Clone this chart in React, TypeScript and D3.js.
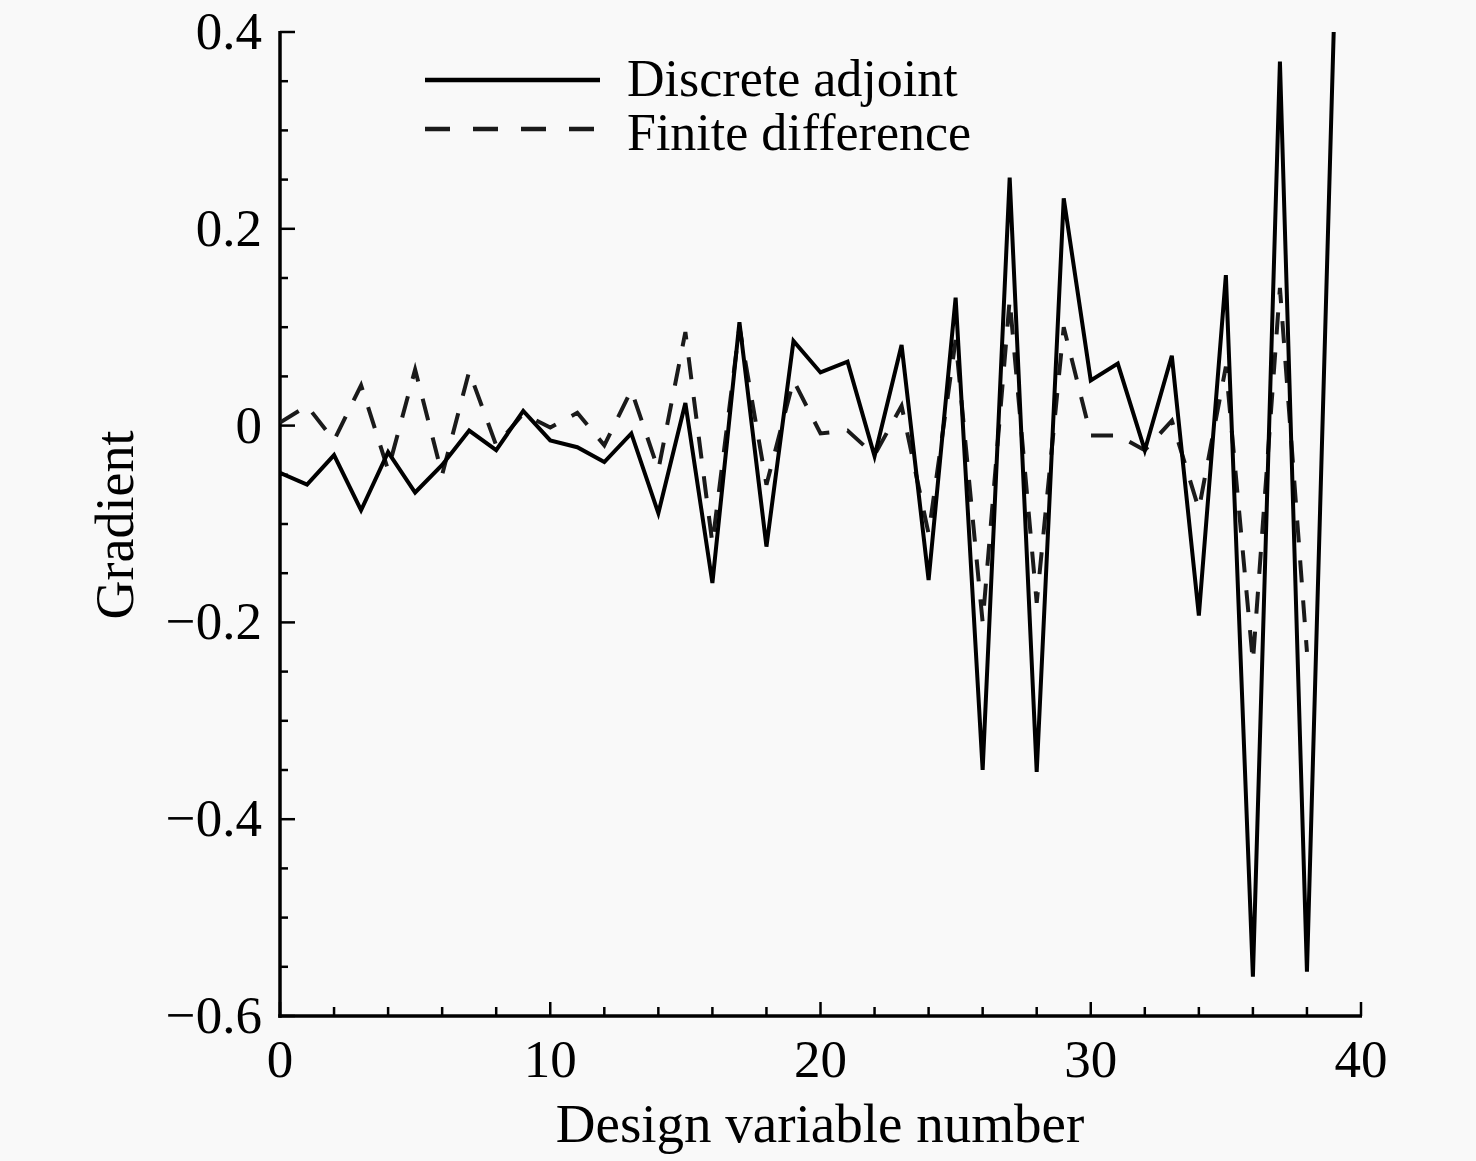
import * as d3 from "d3";
import React, { useEffect, useRef } from "react";

// design variable index 0..39
const adjoint = [
  -0.048, -0.06, -0.03, -0.086, -0.027, -0.068, -0.04, -0.005, -0.025, 0.015,
  -0.015, -0.022, -0.037, -0.008, -0.089, 0.023, -0.16, 0.105, -0.123, 0.086,
  0.054, 0.065, -0.031, 0.082, -0.157, 0.13, -0.35, 0.252, -0.352, 0.231,
  0.046, 0.063, -0.025, 0.071, -0.193, 0.153, -0.56, 0.37, -0.555, 0.41,
];
const finiteDiff = [
  0.003, 0.02, -0.015, 0.041, -0.045, 0.057, -0.05, 0.055, -0.02, 0.012,
  -0.002, 0.013, -0.02, 0.036, -0.045, 0.095, -0.12, 0.1, -0.06, 0.046,
  -0.008, -0.005, -0.03, 0.02, -0.11, 0.087, -0.2, 0.128, -0.18, 0.1,
  -0.01, -0.01, -0.025, 0.005, -0.085, 0.06, -0.24, 0.14, -0.23,
];
const xTicks = [0, 10, 20, 30, 40];
const yTicks = [0.4, 0.2, 0, -0.2, -0.4, -0.6];
const legendNames = ["Discrete adjoint", "Finite difference"];

const W = 1476;
const H = 1161;
const FONT = "'Liberation Serif', 'Times New Roman', serif";

export default function App() {
  const ref = useRef<SVGSVGElement>(null);

  useEffect(() => {
    const svg = d3.select(ref.current);
    svg.selectAll("*").remove();

    const left = 280, right = 1361, top = 32, bottom = 1016;
    const x = d3.scaleLinear().domain([0, 40]).range([left, right]);
    const y = d3.scaleLinear().domain([-0.6, 0.4]).range([bottom, top]);

    svg.append("rect").attr("width", W).attr("height", H).attr("fill", "#f9f9f9");

    svg
      .append("clipPath")
      .attr("id", "plot-clip")
      .append("rect")
      .attr("x", left)
      .attr("y", top)
      .attr("width", right - left)
      .attr("height", bottom - top);

    // ticks (minor every 0.05 / 2, major every 0.2 / 10)
    const g = svg.append("g").attr("stroke", "#000");
    d3.range(-0.6, 0.4001, 0.05).forEach((v) => {
      const major = Math.abs(Math.round(v * 100) % 20) === 0;
      g.append("line")
        .attr("x1", left)
        .attr("x2", left + (major ? 15 : 8))
        .attr("y1", y(v))
        .attr("y2", y(v))
        .attr("stroke-width", 2.5);
    });
    d3.range(0, 40.001, 2).forEach((v) => {
      const major = v % 10 === 0;
      g.append("line")
        .attr("x1", x(v))
        .attr("x2", x(v))
        .attr("y1", bottom)
        .attr("y2", bottom - (major ? 14 : 9))
        .attr("stroke-width", 2.5);
    });

    // axis lines
    g.append("line")
      .attr("x1", left).attr("x2", left)
      .attr("y1", top - 1).attr("y2", bottom + 1.75)
      .attr("stroke-width", 3.5);
    g.append("line")
      .attr("x1", left - 1.75).attr("x2", right + 1)
      .attr("y1", bottom).attr("y2", bottom)
      .attr("stroke-width", 3.5);

    // tick labels
    const fmt = (v: number) => (v === 0 ? "0" : v < 0 ? "\u2212" + d3.format(".1f")(-v) : d3.format(".1f")(v));
    svg
      .append("g")
      .selectAll("text")
      .data(yTicks)
      .enter()
      .append("text")
      .attr("x", 262)
      .attr("y", (d) => y(d) + 17)
      .attr("text-anchor", "end")
      .style("font-family", FONT)
      .style("font-size", "53px")
      .text(fmt);
    svg
      .append("g")
      .selectAll("text")
      .data(xTicks)
      .enter()
      .append("text")
      .attr("x", (d) => x(d))
      .attr("y", 1077)
      .attr("text-anchor", "middle")
      .style("font-family", FONT)
      .style("font-size", "53px")
      .text((d) => String(d));

    // axis titles
    svg
      .append("text")
      .attr("x", 820)
      .attr("y", 1142)
      .attr("text-anchor", "middle")
      .style("font-family", FONT)
      .style("font-size", "55px")
      .text("Design variable number");
    svg
      .append("text")
      .attr("transform", "translate(133, 525) rotate(-90)")
      .attr("text-anchor", "middle")
      .style("font-family", FONT)
      .style("font-size", "54px")
      .text("Gradient");

    // data lines
    const line = d3
      .line<number>()
      .x((_, i) => x(i))
      .y((d) => y(d));
    const plot = svg.append("g").attr("clip-path", "url(#plot-clip)");
    plot
      .append("path")
      .attr("d", line(finiteDiff))
      .attr("fill", "none")
      .attr("stroke", "#1a1a1a")
      .attr("stroke-width", 4)
      .attr("stroke-dasharray", "22 18");
    plot
      .append("path")
      .attr("d", line(adjoint))
      .attr("fill", "none")
      .attr("stroke", "#000")
      .attr("stroke-width", 4)
      .attr("stroke-linejoin", "miter");

    // legend
    const leg = svg.append("g");
    [80, 129].forEach((ly, i) => {
      leg
        .append("line")
        .attr("x1", 425)
        .attr("x2", 600)
        .attr("y1", ly)
        .attr("y2", ly)
        .attr("stroke", i === 0 ? "#000" : "#1a1a1a")
        .attr("stroke-width", 4.5)
        .attr("stroke-dasharray", i === 0 ? null : "25 23");
    });
    leg
      .selectAll("text")
      .data(legendNames)
      .enter()
      .append("text")
      .attr("x", 627)
      .attr("y", (_, i) => 96 + i * 54)
      .style("font-family", FONT)
      .style("font-size", "52px")
      .text((d) => d);
  }, []);

  return (
    <svg
      ref={ref}
      width={W}
      height={H}
      style={{ position: "absolute", left: 0, top: 0, display: "block" }}
    />
  );
}
